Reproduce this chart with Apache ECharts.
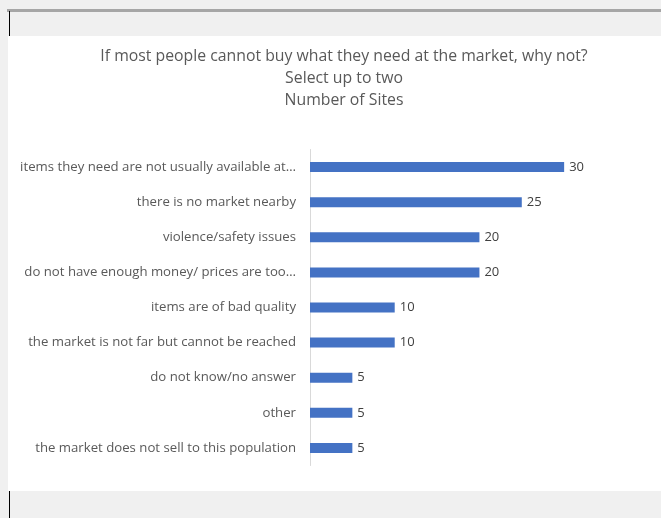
<!DOCTYPE html>
<html>
<head>
<meta charset="utf-8">
<script src="https://cdn.jsdelivr.net/npm/echarts@6/dist/echarts.min.js"></script>
<style>
html,body{margin:0;padding:0;background:#f0f0f0;}
#c{width:661px;height:518px;}
</style>
</head>
<body>
<div id="c"></div>
<script>
var categories = [
  "items they need are not usually available at\u2026",
  "there is no market nearby",
  "violence/safety issues",
  "do not have enough money/ prices are too\u2026",
  "items are of bad quality",
  "the market is not far but cannot be reached",
  "do not know/no answer",
  "other",
  "the market does not sell to this population"
];
var siteCounts = [30, 25, 20, 20, 10, 10, 5, 5, 5];
var titleLines = ["If most people cannot buy what they need at the market, why not?", "Select up to two", "Number of Sites"];

var chart = echarts.init(document.getElementById('c'), null, {renderer: 'canvas'});
var font = "'Open Sans', 'Noto Sans', sans-serif";
chart.setOption({
  animation: false,
  backgroundColor: '#f0f0f0',
  graphic: [
    {type: 'rect', shape: {x: 8, y: 36, width: 653, height: 455}, style: {fill: '#ffffff'}, z: -10},
    {type: 'rect', shape: {x: 7, y: 9, width: 654, height: 3}, style: {fill: '#a6a6a6'}, z: -5},
    {type: 'rect', shape: {x: 9, y: 11, width: 1, height: 25}, style: {fill: '#000000'}, z: -5},
    {type: 'rect', shape: {x: 9, y: 491, width: 1, height: 27}, style: {fill: '#000000'}, z: -5}
  ],
  title: {
    text: titleLines.join('\n'),
    left: 339,
    textAlign: 'center',
    top: 40,
    textStyle: {fontFamily: font, fontSize: 15.8, fontWeight: 'normal', color: '#595959', lineHeight: 22}
  },
  grid: {left: 310, top: 149.5, width: 296.5, height: 316, containLabel: false},
  xAxis: {
    type: 'value', min: 0, max: 35, interval: 5,
    axisLine: {show: false}, axisTick: {show: false}, axisLabel: {show: false}, splitLine: {show: false}
  },
  yAxis: {
    type: 'category', inverse: true, data: categories,
    axisLine: {show: true, lineStyle: {color: '#d9d9d9', width: 1}},
    axisTick: {show: false},
    axisLabel: {fontFamily: font, fontSize: 13.2, color: '#595959', margin: 14}
  },
  series: [{
    type: 'bar', data: siteCounts, barWidth: 10,
    itemStyle: {color: '#4472c4'},
    label: {show: true, position: 'right', distance: 5, fontFamily: font, fontSize: 13, color: '#404040'}
  }]
});
</script>
</body>
</html>
